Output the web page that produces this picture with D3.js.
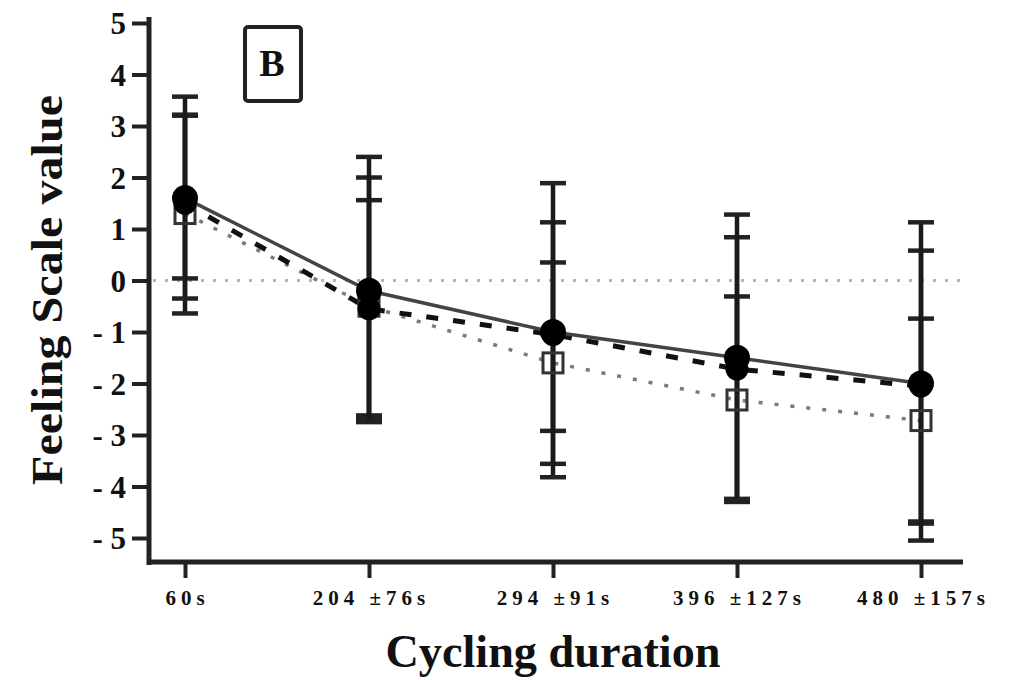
<!DOCTYPE html>
<html>
<head>
<meta charset="utf-8">
<script src="https://cdn.jsdelivr.net/npm/d3@7"></script>
<style>
  body { margin: 0; background: #fff; }
  svg { display: block; }
  .tick text { font-family: "Liberation Serif", serif; font-weight: bold; fill: #111; }
  .axis path, .axis line { stroke: #222; }
</style>
</head>
<body>
<svg id="chart" width="1020" height="680"></svg>
<script>
// x categories (cycling duration)
var categories = ["60s", "204 \u00b176s", "294 \u00b191s", "396 \u00b1127s", "480 \u00b1157s"];
var yTicks = [5, 4, 3, 2, 1, 0, -1, -2, -3, -4, -5];

// solid line, filled circles
var solidMean = [1.6, -0.2, -1.0, -1.5, -2.0];
var solidHi   = [3.57, 2.4, 1.89, 1.28, 1.13];
var solidLo   = [-0.35, -2.75, -3.82, -4.27, -5.05];

// dashed line, filled markers
var dashMean = [1.5, -0.55, -1.05, -1.72, -2.05];
var dashHi   = [3.22, 1.56, 1.13, 0.84, 0.58];
var dashLo   = [0.04, -2.62, -2.92, -4.24, -4.68];

// dotted line, open squares
var dotMean = [1.3, -0.5, -1.6, -2.32, -2.72];
var dotHi   = [3.2, 2.0, 0.35, -0.31, -0.74];
var dotLo   = [-0.64, -2.68, -3.56, -4.3, -4.72];

var svg = d3.select('#chart');

var x = d3.scalePoint().domain(categories).range([185, 921]);
var y = d3.scaleLinear().domain([-5, 5]).range([538, 23]);

var axisY = 562;
var axisX = 149;

// zero reference line
svg.append('line')
  .attr('x1', axisX + 4).attr('x2', 963)
  .attr('y1', y(0)).attr('y2', y(0))
  .attr('stroke', '#b5b5b5').attr('stroke-width', 3)
  .attr('stroke-dasharray', '3,9');

// y axis
var gy = svg.append('g').attr('class', 'axis')
  .attr('transform', 'translate(' + axisX + ',0)')
  .call(d3.axisLeft(y).tickValues(yTicks).tickSize(17).tickPadding(6)
    .tickFormat(function(d) { return d < 0 ? '- ' + Math.abs(d) : d; }));
gy.select('.domain').remove();
gy.selectAll('.tick line').attr('stroke-width', 4);
gy.selectAll('.tick text').style('font-size', '31px').attr('dy', '0.34em');
svg.append('line')
  .attr('x1', axisX).attr('x2', axisX)
  .attr('y1', 17).attr('y2', axisY + 3)
  .attr('stroke', '#222').attr('stroke-width', 5);

// x axis
var gx = svg.append('g').attr('class', 'axis')
  .attr('transform', 'translate(0,' + axisY + ')')
  .call(d3.axisBottom(x).tickSize(16).tickPadding(12));
gx.select('.domain').remove();
gx.selectAll('.tick line').attr('stroke-width', 4);
gx.selectAll('.tick text')
  .style('font-size', '21px')
  .style('letter-spacing', '5px')
  .attr('dx', '2px');
svg.append('line')
  .attr('x1', axisX - 2).attr('x2', 963)
  .attr('y1', axisY).attr('y2', axisY)
  .attr('stroke', '#222').attr('stroke-width', 5);

// axis titles
svg.append('text')
  .attr('x', 553).attr('y', 667)
  .attr('text-anchor', 'middle')
  .attr('textLength', 335).attr('lengthAdjust', 'spacingAndGlyphs')
  .style('font-family', '"Liberation Serif", serif')
  .style('font-weight', 'bold')
  .style('font-size', '47px')
  .attr('fill', '#111')
  .text('Cycling duration');

svg.append('text')
  .attr('transform', 'translate(62,290) rotate(-90)')
  .attr('text-anchor', 'middle')
  .attr('textLength', 390).attr('lengthAdjust', 'spacingAndGlyphs')
  .style('font-family', '"Liberation Serif", serif')
  .style('font-weight', 'bold')
  .style('font-size', '45px')
  .attr('fill', '#111')
  .text('Feeling Scale value');

// panel label
svg.append('rect')
  .attr('x', 245).attr('y', 27).attr('width', 56).attr('height', 74)
  .attr('rx', 3)
  .attr('fill', '#fff').attr('stroke', '#222').attr('stroke-width', 4);
svg.append('text')
  .attr('x', 272).attr('y', 76)
  .attr('text-anchor', 'middle')
  .style('font-family', '"Liberation Serif", serif')
  .style('font-weight', 'bold')
  .style('font-size', '38px')
  .attr('fill', '#111')
  .text('B');

var series = [
  { mean: dotMean, hi: dotHi, lo: dotLo, stroke: '#7a7a7a', width: 3.5, dash: '4,12', marker: 'square' },
  { mean: dashMean, hi: dashHi, lo: dashLo, stroke: '#111', width: 5, dash: '12,15', marker: 'circle', r: 11.5 },
  { mean: solidMean, hi: solidHi, lo: solidLo, stroke: '#444', width: 3.5, dash: null, marker: 'circle', r: 13 }
];

var line = d3.line()
  .x(function(d, i) { return x(categories[i]); })
  .y(function(d) { return y(d); });

// lines
series.forEach(function(s) {
  svg.append('path')
    .attr('d', line(s.mean))
    .attr('fill', 'none')
    .attr('stroke', s.stroke)
    .attr('stroke-width', s.width)
    .attr('stroke-dasharray', s.dash);
});

// error bars
series.forEach(function(s) {
  var g = svg.append('g');
  categories.forEach(function(c, i) {
    var cx = x(c);
    g.append('line')
      .attr('x1', cx).attr('x2', cx)
      .attr('y1', y(s.hi[i])).attr('y2', y(s.lo[i]))
      .attr('stroke', '#1a1a1a').attr('stroke-width', 4.5);
    [s.hi[i], s.lo[i]].forEach(function(v) {
      g.append('line')
        .attr('x1', cx - 13).attr('x2', cx + 13)
        .attr('y1', y(v)).attr('y2', y(v))
        .attr('stroke', '#222').attr('stroke-width', 4.5);
    });
  });
});

// markers
series.forEach(function(s) {
  categories.forEach(function(c, i) {
    var cx = x(c), cy = y(s.mean[i]);
    if (s.marker === 'square') {
      svg.append('rect')
        .attr('x', cx - 10).attr('y', cy - 10)
        .attr('width', 20).attr('height', 20)
        .attr('fill', 'none')
        .attr('stroke', '#333').attr('stroke-width', 3);
    } else {
      svg.append('circle')
        .attr('cx', cx).attr('cy', cy).attr('r', s.r)
        .attr('fill', '#000');
    }
  });
});
</script>
</body>
</html>
